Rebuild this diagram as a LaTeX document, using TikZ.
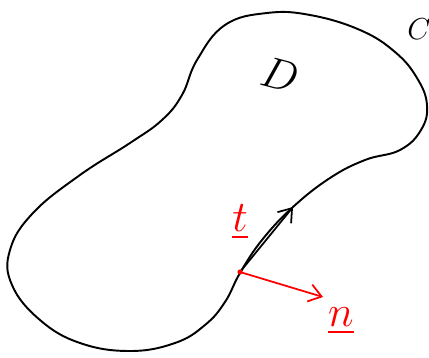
\documentclass[tikz,border=0pt]{standalone}
\usepackage{amsmath}
\usetikzlibrary{arrows.meta}

\tikzset{
    curve/.style={line width=1.1pt, black},
    vec/.style={line width=1pt, -{Straight Barb[length=7pt, width=10pt]}},
    lbl/.style={text=red, font=\Huge, inner sep=1pt}
}

\begin{document}
\begin{tikzpicture}[x=0.02cm, y=-0.02cm]
    \useasboundingbox (0, 0) rectangle (429, 358);
    % boundary of the region
    \draw[curve] plot[smooth cycle, tension=0.7] coordinates {
        (267, 13) (310, 15) (360, 30) (395, 52) (417, 78) (427, 105)
        (421, 130) (400, 150) (365, 160) (330, 178) (293, 207) (262, 240)
        (240, 273) (225, 302) (205, 325) (175, 343) (130, 351) (80, 343)
        (40, 320) (12, 285) (10, 250) (33, 213) (80, 175) (130, 143)
        (162, 120) (182, 95) (197, 60) (225, 25)};
    \coordinate (p) at (240, 272);
    \coordinate (ttip) at (293, 207);
    \coordinate (ntip) at (323, 297);
    % tangent and normal
    \draw[vec, black] (p) -- (ttip);
    \draw[vec, red] (p) -- (ntip);
    \fill[red] (p) circle (2.6);
    \node[lbl] (tlab) at (240, 222) {$\underline{t}$};
    \node[lbl] (nlab) at (341, 321) {$\underline{n}$};
    \node[font=\Huge, rotate=-15] (dlab) at (280, 75) {$D$};
    \node[font=\LARGE, inner sep=0pt] (clab) at (419, 29) {$C$};
\end{tikzpicture}
\end{document}
